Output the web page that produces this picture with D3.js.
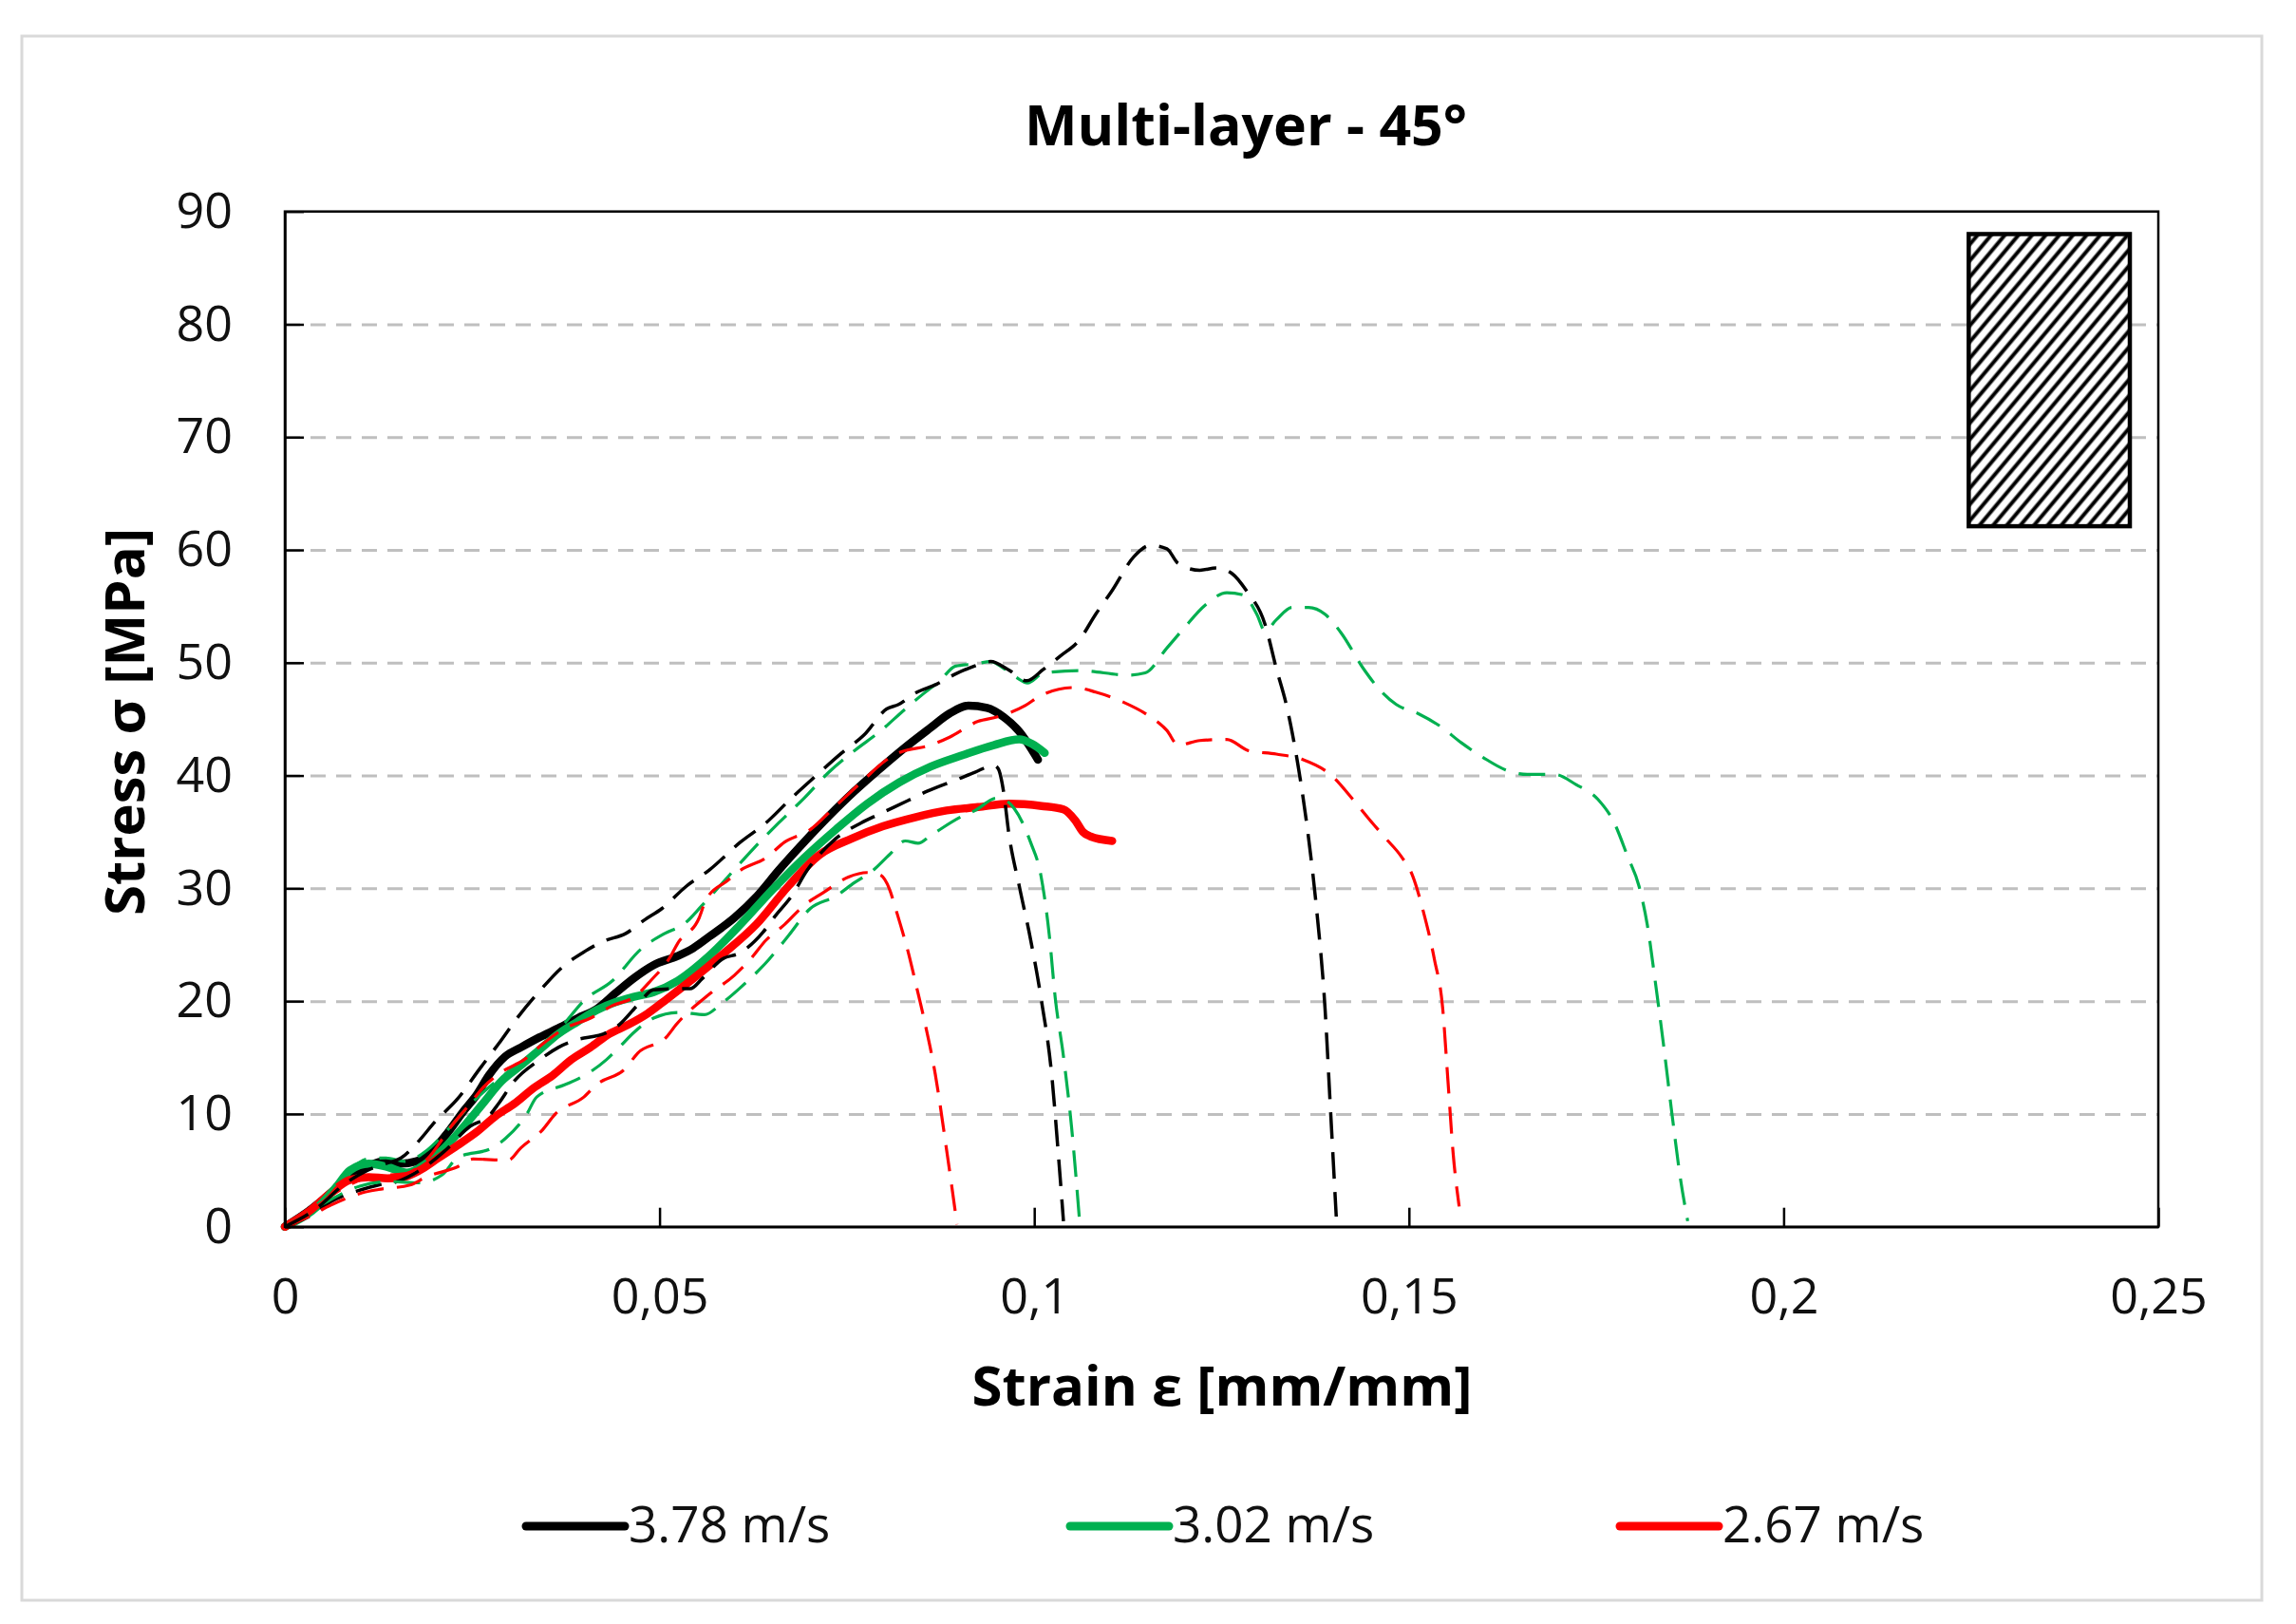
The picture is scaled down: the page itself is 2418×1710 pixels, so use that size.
<!DOCTYPE html>
<html>
<head>
<meta charset="utf-8">
<script src="https://cdn.jsdelivr.net/npm/d3@7"></script>
<style>
  html, body { margin: 0; padding: 0; background: #fff; }
  svg { display: block; }
  text { font-family: 'Open Sans', 'Noto Sans', sans-serif; }
</style>
</head>
<body>
<svg id="chart" width="2418" height="1710"></svg>
<script>
// ---------------- DATA ----------------
const chartTitle = "Multi-layer - 45°";
const xAxisTitle = "Strain ε [mm/mm]";
const yAxisTitle = "Stress σ [MPa]";
const xTicks = [0, 0.05, 0.1, 0.15, 0.2, 0.25];
const yTicks = [0, 10, 20, 30, 40, 50, 60, 70, 80, 90];
const seriesNames = ["3.78 m/s", "3.02 m/s", "2.67 m/s"];
const seriesColors = ["#000000", "#00b050", "#ff0000"];

// average curves (solid) [strain, stress]
const avg378 = [[0,0],[0.0036,1.6],[0.0066,3.3],[0.0087,4.7],[0.0108,5.3],[0.0133,5.8],[0.0154,5.6],[0.0175,5.8],[0.0196,6.7],[0.0218,8.4],[0.0239,10.3],[0.0256,11.7],[0.0272,13.4],[0.0294,15.1],[0.0315,15.9],[0.034,16.8],[0.0365,17.6],[0.0391,18.5],[0.0416,19.3],[0.0441,20.7],[0.0467,22.1],[0.0492,23.2],[0.0524,24.0],[0.0545,24.7],[0.0566,25.7],[0.06,27.4],[0.063,29.3],[0.0659,31.6],[0.0693,34.1],[0.0726,36.4],[0.076,38.6],[0.0794,40.6],[0.0828,42.5],[0.0861,44.2],[0.0887,45.5],[0.0912,46.2],[0.0937,46.0],[0.0959,45.2],[0.098,43.9],[0.1005,41.4]];
const avg302 = [[0,0],[0.0036,1.4],[0.0066,3.3],[0.0087,5.0],[0.0112,5.6],[0.0137,5.3],[0.0163,4.8],[0.0188,5.6],[0.0213,7.0],[0.0239,8.9],[0.0264,10.9],[0.0289,12.9],[0.0315,14.3],[0.034,15.7],[0.0365,17.1],[0.0391,18.2],[0.0416,19.2],[0.0441,19.9],[0.0467,20.4],[0.0492,20.8],[0.0524,21.8],[0.0566,24.0],[0.0608,26.8],[0.0651,29.9],[0.0693,32.7],[0.0735,35.2],[0.0777,37.5],[0.082,39.4],[0.0862,40.8],[0.0904,41.8],[0.0946,42.7],[0.098,43.2],[0.0997,42.8],[0.1014,42.0]];
const avg267 = [[0,0],[0.0032,1.35],[0.0061,3.0],[0.0087,4.15],[0.0112,4.4],[0.0137,4.3],[0.0158,4.4],[0.018,5.0],[0.0205,6.1],[0.023,7.2],[0.0256,8.4],[0.0281,9.8],[0.0306,10.9],[0.0332,12.3],[0.0357,13.4],[0.0382,14.8],[0.0408,15.9],[0.0433,17.1],[0.0458,17.9],[0.0484,18.9],[0.051,20.2],[0.0545,22.0],[0.0587,24.3],[0.0629,26.8],[0.0672,30.2],[0.0714,33.0],[0.0756,34.4],[0.0798,35.5],[0.0841,36.3],[0.0883,36.9],[0.0925,37.2],[0.0967,37.5],[0.101,37.3],[0.1039,37.0],[0.1055,36.0],[0.1065,35.0],[0.1075,34.6],[0.1104,34.2]];

// individual tests (dashed)
const test378a = [[0,0],[0.004,1.5],[0.008,3.8],[0.011,5.0],[0.0135,5.6],[0.0155,6.1],[0.0176,7.4],[0.0201,9.35],[0.023,11.3],[0.026,14.0],[0.0285,16.2],[0.031,18.5],[0.034,20.9],[0.037,23.0],[0.04,24.4],[0.0425,25.3],[0.0455,26.0],[0.048,27.2],[0.0503,28.2],[0.0536,30.2],[0.0566,31.6],[0.0608,34.1],[0.0642,35.8],[0.0676,38.0],[0.0709,40.0],[0.0743,42.0],[0.0773,43.6],[0.0803,45.9],[0.0819,46.3],[0.0841,47.3],[0.087,48.1],[0.0895,49.0],[0.092,49.7],[0.0942,50.1],[0.0965,49.4],[0.099,48.4],[0.1012,49.4],[0.1035,50.6],[0.106,52.0],[0.1082,54.3],[0.1104,56.4],[0.1133,59.4],[0.1155,60.4],[0.1177,60.1],[0.1192,58.8],[0.1221,58.2],[0.1243,58.4],[0.1264,57.9],[0.1283,56.4],[0.1308,53.4],[0.1323,49.5],[0.1337,46.1],[0.1352,40.9],[0.1366,34.5],[0.1377,28.0],[0.1388,19.4],[0.1395,10.8],[0.1403,0.9]];
const test378b = [[0,0],[0.004,1.2],[0.0061,2.2],[0.0103,3.3],[0.0125,3.7],[0.015,4.0],[0.018,5.0],[0.0213,6.7],[0.0247,8.9],[0.0272,9.8],[0.0285,10.9],[0.0306,12.9],[0.034,14.8],[0.0365,15.9],[0.0386,16.5],[0.0429,17.2],[0.0446,17.9],[0.047,19.6],[0.0492,21.0],[0.0526,21.1],[0.0541,21.1],[0.0557,22.0],[0.0583,23.7],[0.0608,24.3],[0.0638,26.1],[0.0655,27.6],[0.0676,29.3],[0.0697,31.6],[0.0735,34.4],[0.0769,35.8],[0.0794,36.6],[0.0832,37.8],[0.0857,38.6],[0.0899,39.7],[0.0921,40.3],[0.0946,40.9],[0.0952,40.6],[0.0959,38.6],[0.0966,34.9],[0.098,30.2],[0.0995,25.5],[0.1009,20.3],[0.1024,13.0],[0.1031,7.4],[0.1039,0.5]];
const test302a = [[0,0],[0.004,1.8],[0.008,4.6],[0.011,6.0],[0.0135,6.1],[0.016,5.8],[0.019,6.8],[0.022,8.8],[0.025,11.0],[0.028,12.8],[0.031,14.3],[0.034,15.8],[0.037,17.8],[0.04,20.1],[0.0437,21.8],[0.0475,24.6],[0.0507,26.0],[0.0532,26.8],[0.0557,28.5],[0.0591,31.0],[0.0625,33.5],[0.0659,35.8],[0.0693,38.0],[0.0726,40.3],[0.076,42.2],[0.0794,43.9],[0.0828,45.9],[0.0853,47.3],[0.0874,48.4],[0.0895,49.7],[0.0921,49.9],[0.0942,50.1],[0.0959,49.5],[0.0976,48.7],[0.0991,48.2],[0.1013,49.1],[0.106,49.3],[0.1126,48.9],[0.1148,49.1],[0.1177,51.3],[0.1199,53.0],[0.1228,55.1],[0.1257,56.2],[0.1279,56.0],[0.1297,54.3],[0.1308,52.8],[0.1323,53.8],[0.1344,54.9],[0.1366,54.9],[0.1388,54.3],[0.141,52.6],[0.1439,49.5],[0.1461,47.6],[0.1483,46.3],[0.1512,45.5],[0.1541,44.4],[0.157,42.9],[0.1599,41.6],[0.1629,40.5],[0.1658,40.1],[0.1694,40.1],[0.1723,39.2],[0.1752,37.9],[0.1774,35.8],[0.1792,32.8],[0.1807,30.2],[0.1818,26.8],[0.1829,21.6],[0.184,16.0],[0.1851,10.0],[0.1862,4.4],[0.1872,0.5]];
const test302b = [[0,0],[0.005,2.0],[0.01,3.6],[0.014,4.0],[0.018,3.9],[0.021,4.6],[0.023,6.1],[0.0277,7.0],[0.0294,7.8],[0.0323,10.0],[0.0336,11.5],[0.0374,12.6],[0.0391,13.1],[0.0429,14.8],[0.0446,15.9],[0.0467,17.3],[0.0492,18.5],[0.0526,19.0],[0.056,18.8],[0.0583,19.8],[0.0608,21.2],[0.0646,23.7],[0.0672,25.8],[0.0701,28.2],[0.0735,29.3],[0.076,30.5],[0.0785,31.6],[0.0807,33.0],[0.0828,34.2],[0.0845,34.0],[0.0862,34.7],[0.0904,36.4],[0.0921,36.9],[0.095,38.0],[0.0962,37.8],[0.0973,37.1],[0.0995,34.1],[0.1009,31.1],[0.102,25.9],[0.1028,20.3],[0.1039,15.1],[0.105,8.7],[0.106,0.9]];
const test267a = [[0,0],[0.0035,1.0],[0.0061,1.9],[0.0103,3.0],[0.0125,3.3],[0.0167,3.7],[0.0188,4.4],[0.023,5.3],[0.0251,6.0],[0.0298,5.9],[0.0315,7.0],[0.0344,8.6],[0.0361,10.0],[0.0399,11.5],[0.0416,12.6],[0.0454,14.0],[0.0471,15.4],[0.0509,16.8],[0.0522,17.9],[0.0566,20.6],[0.06,22.3],[0.0621,23.7],[0.0642,25.4],[0.0667,26.8],[0.0693,28.5],[0.0718,29.6],[0.0752,31.0],[0.0777,31.4],[0.0794,31.2],[0.0807,29.9],[0.0815,28.2],[0.0824,26.2],[0.0832,24.3],[0.0841,21.8],[0.0853,18.4],[0.0868,13.5],[0.0882,7.3],[0.0897,0.2]];
const test267b = [[0,0],[0.004,1.7],[0.008,3.5],[0.012,4.5],[0.016,4.7],[0.019,6.0],[0.0222,8.9],[0.0247,10.9],[0.0264,12.3],[0.0289,13.7],[0.0319,14.8],[0.0344,16.2],[0.0374,17.6],[0.0408,18.5],[0.0437,19.6],[0.0467,20.4],[0.0488,21.8],[0.0515,24.0],[0.0524,25.1],[0.0553,27.4],[0.0562,29.0],[0.0591,30.7],[0.0608,31.6],[0.0642,32.7],[0.0667,34.1],[0.0701,35.2],[0.0735,37.3],[0.0769,39.4],[0.0803,41.4],[0.0819,42.0],[0.0862,42.7],[0.0887,43.4],[0.0925,44.8],[0.0951,45.2],[0.0988,46.2],[0.1009,47.1],[0.1053,47.8],[0.1082,47.4],[0.1119,46.5],[0.1155,45.2],[0.1177,44.0],[0.1192,42.7],[0.1221,43.1],[0.1257,43.2],[0.1286,42.2],[0.1323,41.9],[0.1359,41.4],[0.1395,40.1],[0.1425,37.9],[0.1446,36.2],[0.1468,34.5],[0.149,32.8],[0.1505,31.1],[0.1519,28.0],[0.1534,23.7],[0.1545,19.4],[0.1552,13.0],[0.1559,6.5],[0.1567,1.8]];

// hatched specimen sketch: [strainLeft, strainRight, stressBottom, stressTop]
const hatchBox = [0.2247, 0.2462, 62.1, 88];

// ---------------- CHART ----------------
const svg = d3.select("#chart");
const plot = { left: 300, right: 2273, top: 222.7, bottom: 1291.7 };

const x = d3.scaleLinear().domain([0, 0.25]).range([plot.left, plot.right]);
const y = d3.scaleLinear().domain([0, 90]).range([plot.bottom, plot.top]);

// outer chart border
svg.append("rect")
  .attr("x", 23).attr("y", 38).attr("width", 2359).attr("height", 1647)
  .attr("fill", "#fff").attr("stroke", "#d9d9d9").attr("stroke-width", 3);

const defs = svg.append("defs");
const pat = defs.append("pattern")
  .attr("id", "hatch").attr("patternUnits", "userSpaceOnUse")
  .attr("width", 11).attr("height", 11)
  .attr("patternTransform", "rotate(40)");
pat.append("rect").attr("width", 11).attr("height", 11).attr("fill", "#fff");
pat.append("line").attr("x1", 5.5).attr("y1", -1).attr("x2", 5.5).attr("y2", 12)
  .attr("stroke", "#000").attr("stroke-width", 4);

// gridlines
svg.append("g")
  .attr("transform", `translate(${plot.left},0)`)
  .call(d3.axisLeft(y).tickValues(yTicks.filter(v => v > 0 && v < 90))
    .tickSize(-(plot.right - plot.left)).tickFormat(""))
  .call(g => g.select(".domain").remove())
  .call(g => g.selectAll("line")
    .attr("stroke", "#bfbfbf").attr("stroke-width", 3)
    .attr("stroke-dasharray", "16 11"));

// hatched rectangle
svg.append("rect")
  .attr("x", x(hatchBox[0])).attr("y", y(hatchBox[3]))
  .attr("width", x(hatchBox[1]) - x(hatchBox[0]))
  .attr("height", y(hatchBox[2]) - y(hatchBox[3]))
  .attr("fill", "url(#hatch)").attr("stroke", "#000").attr("stroke-width", 4.5);

// curves
const line = d3.line().x(d => x(d[0])).y(d => y(d[1])).curve(d3.curveMonotoneX);
const curves = svg.append("g");

const solids = [
  { data: avg378, color: seriesColors[0] },
  { data: avg302, color: seriesColors[1] },
  { data: avg267, color: seriesColors[2] }
];
const dashed = [
  { data: test378b, color: seriesColors[0], w: 3.5 },
  { data: test302b, color: seriesColors[1], w: 3.2 },
  { data: test267a, color: seriesColors[2], w: 3.2 },
  { data: test302a, color: seriesColors[1], w: 3.2 },
  { data: test267b, color: seriesColors[2], w: 3.2 },
  { data: test378a, color: seriesColors[0], w: 3.5 }
];

solids.forEach(s => {
  curves.append("path").datum(s.data).attr("d", line)
    .attr("fill", "none").attr("stroke", s.color).attr("stroke-width", 8.5)
    .attr("stroke-linejoin", "round").attr("stroke-linecap", "round");
});
dashed.forEach(s => {
  curves.append("path").datum(s.data).attr("d", line)
    .attr("fill", "none").attr("stroke", s.color).attr("stroke-width", s.w)
    .attr("stroke-dasharray", "28 14");
});

// axes
const fmtX = d => d === 0 ? "0" : String(d).replace(".", ",");
const yAxis = svg.append("g")
  .attr("transform", `translate(${plot.left},0)`)
  .call(d3.axisLeft(y).tickValues(yTicks).tickSizeInner(-20).tickSizeOuter(0)
    .tickPadding(55).tickFormat(d3.format("d")));
const xAxis = svg.append("g")
  .attr("transform", `translate(0,${plot.bottom})`)
  .call(d3.axisBottom(x).tickValues(xTicks).tickSizeInner(-20).tickSizeOuter(0)
    .tickPadding(54).tickFormat(fmtX));
[yAxis, xAxis].forEach(g => {
  g.selectAll(".domain").attr("stroke", "#000").attr("stroke-width", 2.5);
  g.selectAll(".tick line").attr("stroke", "#000").attr("stroke-width", 2.5);
  g.selectAll(".tick text").attr("font-size", 52).attr("fill", "#111")
    .attr("font-family", "'Open Sans', sans-serif");
});

// plot frame
svg.append("rect")
  .attr("x", plot.left).attr("y", plot.top)
  .attr("width", plot.right - plot.left).attr("height", plot.bottom - plot.top)
  .attr("fill", "none").attr("stroke", "#000").attr("stroke-width", 2.5);

// titles
svg.append("text").attr("x", 1312).attr("y", 153).attr("text-anchor", "middle")
  .attr("font-size", 59).attr("font-weight", "bold").attr("fill", "#000").text(chartTitle);
svg.append("text").attr("x", 1287).attr("y", 1480).attr("text-anchor", "middle")
  .attr("font-size", 58).attr("font-weight", "bold").attr("fill", "#000").text(xAxisTitle);
svg.append("text").attr("transform", "translate(152,760) rotate(-90)")
  .attr("text-anchor", "middle")
  .attr("font-size", 58).attr("font-weight", "bold").attr("fill", "#000").text(yAxisTitle);

// legend
const legendX = [554, 1127, 1706];
const legend = svg.append("g");
seriesNames.forEach((name, i) => {
  legend.append("line")
    .attr("x1", legendX[i]).attr("x2", legendX[i] + 104)
    .attr("y1", 1607).attr("y2", 1607)
    .attr("stroke", seriesColors[i]).attr("stroke-width", 9).attr("stroke-linecap", "round");
  legend.append("text")
    .attr("x", legendX[i] + 108).attr("y", 1624)
    .attr("font-size", 53).attr("fill", "#111").text(name);
});
</script>
</body>
</html>
